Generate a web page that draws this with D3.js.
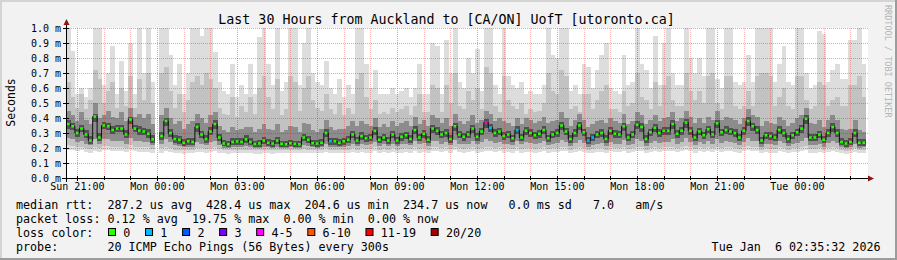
<!DOCTYPE html>
<html><head><meta charset="utf-8">
<script src="https://cdn.jsdelivr.net/npm/d3@7"></script>
<style>html,body{margin:0;padding:0;background:#f2f2f2;} svg{display:block;}</style>
</head><body>
<svg id="c" width="897" height="260"></svg>
<script>
// ---- data (values in microseconds, one step = 10 minutes) ----
const stepSeconds = 600;
const startTime = Date.UTC(2026, 0, 4, 20, 35, 32);
const endTime = Date.UTC(2026, 0, 6, 2, 35, 32);

const median = [
360,345,300,330,290,250,410,270,350,345,320,330,330,290,390,
330,316,310,295,258,null,280,380,300,260,255,235,245,240,340,
290,260,310,360,270,230,225,240,244,240,258,240,227,230,250,
235,230,250,228,225,232,228,225,270,255,232,230,235,300,245,
245,235,245,255,290,250,280,265,270,315,255,270,250,290,250,
275,285,260,320,270,295,255,330,315,290,300,260,345,290,275,
290,330,275,310,370,335,300,310,280,290,265,320,270,315,300,
285,295,320,265,290,300,350,310,260,300,350,305,250,270,290,
300,260,315,295,290,345,270,290,355,340,260,305,335,300,315,
315,360,295,315,370,315,270,310,285,325,290,365,305,320,310,
300,270,315,380,345,320,250,285,280,270,320,300,260,285,305,
330,395,270,270,290,255,300,340,300,240,230,240,300,235,235];

const pingMax = [
1000,850,560,600,540,600,1000,1000,620,700,880,560,780,580,900,
560,1000,700,1000,640,null,1000,1000,820,620,760,560,700,1000,1000,
950,1000,1000,840,640,580,560,760,540,620,560,760,560,940,1000,
760,620,1000,580,640,1000,1000,620,900,1000,700,640,620,780,600,
560,660,540,620,560,1000,1000,760,600,720,560,560,560,600,560,
580,600,540,600,760,560,560,900,880,560,920,700,1000,640,600,
800,700,860,580,1000,1000,620,560,1000,680,620,600,640,560,580,
560,560,620,1000,820,800,1000,1000,580,620,560,760,740,600,720,
820,900,600,580,560,820,620,640,1000,760,720,600,950,620,900,
1000,700,620,620,1000,800,700,800,680,1000,1000,660,600,1000,1000,
640,620,640,820,640,1000,1000,1000,1000,640,760,880,640,620,1000,
1000,700,600,620,980,960,640,720,760,660,660,920,920,1000,760];

const ping90 = [
640,540,470,560,460,520,720,660,500,580,640,470,600,480,680,
470,660,520,700,500,null,700,740,580,470,560,440,520,640,680,
620,700,660,600,470,430,420,540,410,480,440,540,430,600,680,
540,460,660,420,460,680,640,450,600,680,520,470,450,560,460,
430,500,420,470,430,660,700,540,460,520,430,440,430,470,440,
460,480,420,480,560,440,440,620,600,440,620,500,700,480,460,
580,520,600,460,740,700,480,440,680,520,480,460,500,430,460,
440,450,500,700,580,560,720,680,460,480,440,560,560,460,520,
580,620,460,460,440,580,480,500,700,540,520,460,640,480,620,
680,520,480,480,700,580,520,580,500,680,700,500,460,680,680,
480,460,480,580,480,680,700,700,680,480,540,600,480,460,680,
680,520,460,480,640,620,480,520,540,480,480,620,620,680,540];

const ping75 = [
450,420,380,440,390,360,500,400,420,450,410,400,440,380,470,
410,430,400,430,360,null,420,470,400,360,380,330,360,380,430,
400,370,420,440,350,320,310,340,320,330,340,340,310,330,360,
330,320,360,310,320,350,340,310,370,360,320,310,330,390,340,
320,330,330,350,380,350,380,360,350,400,340,360,340,380,350,
370,380,350,410,360,390,350,420,400,370,400,350,430,380,360,
380,420,370,390,450,430,380,400,380,370,350,400,360,400,390,
370,380,410,370,380,390,440,400,350,390,430,390,340,360,380,
390,370,400,380,370,430,360,380,440,420,360,390,420,380,400,
410,440,380,400,450,410,370,400,370,410,390,450,390,410,400,
390,360,400,460,420,410,350,380,370,360,410,390,350,370,400,
420,470,370,360,390,340,390,420,390,330,320,330,390,320,310];

const ping60 = [
385,370,330,355,320,280,430,300,375,370,345,355,355,320,410,
355,345,335,325,285,null,310,400,325,285,280,260,270,265,365,
315,285,340,385,295,255,250,265,270,265,285,265,250,255,275,
260,255,275,250,250,255,250,250,295,280,255,255,260,325,270,
270,260,270,280,315,275,305,290,295,340,280,295,275,315,275,
300,310,285,345,295,320,280,355,340,315,325,285,370,315,300,
315,355,300,335,395,360,325,335,305,315,290,345,295,340,325,
310,320,345,290,315,325,375,335,285,325,375,330,275,295,315,
325,285,340,320,315,370,295,315,380,365,285,330,360,325,340,
340,385,320,340,395,340,295,335,310,350,315,390,330,345,335,
325,295,340,405,370,345,275,310,305,295,345,325,285,310,330,
355,420,295,295,315,280,325,365,325,265,255,265,325,260,260];

const ping40 = [
330,320,275,305,265,230,375,245,325,320,295,305,305,265,360,
305,290,285,270,235,null,255,350,275,235,230,215,222,218,310,
265,235,285,330,245,212,208,218,222,218,235,218,208,210,228,
215,210,228,208,206,212,208,206,245,232,212,210,215,272,222,
222,215,222,232,265,228,255,240,245,288,232,245,228,265,228,
250,260,236,292,245,270,232,302,288,265,275,236,315,265,250,
265,302,250,285,335,305,275,285,255,265,240,292,245,288,275,
260,270,292,240,265,275,320,285,236,275,320,280,228,245,265,
275,236,288,270,265,315,245,265,325,310,236,280,305,275,288,
288,330,270,288,335,288,245,285,260,298,265,335,280,292,285,
275,245,288,345,315,292,228,260,255,245,292,275,236,260,280,
302,360,245,245,265,232,275,310,275,218,210,218,275,212,212];

const ping25 = [
270,260,240,250,230,220,260,230,260,260,250,250,250,230,270,
250,250,240,240,220,null,230,260,240,220,215,205,210,210,240,
230,220,240,250,220,200,200,205,210,205,215,205,200,200,210,
205,200,210,200,200,205,200,200,220,215,205,200,205,230,210,
210,205,210,215,230,215,230,220,225,240,215,225,215,230,215,
225,230,220,245,225,235,215,250,245,230,240,220,255,230,225,
230,250,225,240,260,250,235,240,225,230,220,245,225,240,235,
230,235,245,220,230,235,255,240,215,235,255,235,210,220,230,
235,215,240,230,230,255,220,230,260,250,215,235,250,235,240,
240,260,230,240,265,240,220,240,230,245,230,260,235,245,240,
235,220,240,270,250,245,210,230,225,220,245,235,215,230,235,
250,270,220,220,230,210,235,250,235,205,200,205,230,200,205];

const ping10 = [
220,215,205,210,200,195,210,200,215,215,210,210,210,200,220,
210,205,205,205,195,null,200,210,200,190,190,185,190,190,200,
200,195,200,210,195,185,185,185,190,185,190,185,185,185,190,
185,185,190,185,185,185,185,185,195,190,185,185,185,200,190,
190,185,190,190,200,190,200,195,195,205,190,195,190,200,190,
195,200,195,205,195,200,190,210,205,200,205,195,210,200,195,
200,205,195,200,210,205,200,205,195,200,195,205,195,200,200,
195,200,205,195,200,200,210,205,190,200,210,200,190,195,200,
200,190,205,200,200,210,195,200,210,205,190,200,205,200,205,
205,210,200,205,215,205,195,205,200,205,200,210,200,205,205,
200,195,205,215,205,205,190,200,195,195,205,200,190,200,200,
205,215,195,195,200,190,200,205,200,185,180,185,200,185,190];

const pingMin = [
190,185,180,185,175,170,180,175,185,185,180,180,180,175,190,
180,175,175,175,170,null,170,180,175,165,165,160,165,165,175,
175,170,175,180,170,165,160,165,165,165,165,165,160,160,165,
165,160,170,165,165,165,165,165,170,170,165,165,165,175,170,
170,165,170,170,175,170,175,170,170,180,170,175,170,175,170,
170,175,170,180,170,175,170,180,180,175,180,170,185,175,170,
175,180,170,175,180,180,175,180,170,175,170,180,170,175,175,
170,175,180,170,175,175,180,180,165,175,180,175,165,170,175,
175,165,180,175,175,180,170,175,180,180,165,175,180,175,180,
180,180,175,180,185,180,170,180,175,180,175,185,175,180,180,
175,170,180,185,180,180,165,175,170,170,180,175,165,175,175,
180,185,170,170,175,165,175,180,175,165,160,165,175,165,170];

const lossSteps = [59, 94, 95, 101, 117, 118];
const lossCounts = [1, 4, 1, 1, 1, 1];

const lossLabels = ["0", "1", "2", "3", "4-5", "6-10", "11-19", "20/20"];
const lossColors = ["#26ff00", "#00b8ff", "#0059ff", "#7e00ff", "#ff00ff", "#ff5500", "#ff0000", "#a10000"];
const lossUpper = [0, 1, 2, 3, 5, 10, 19, 20];

const yTicks = [0, 100, 200, 300, 400, 500, 600, 700, 800, 900, 1000];

const titleText = "Last 30 Hours from Auckland to [CA/ON] UofT [utoronto.ca]";
const legendLine1 = "median rtt:  287.2 us avg  428.4 us max  204.6 us min  234.7 us now   0.0 ms sd   7.0   am/s";
const legendLine2 = "packet loss: 0.12 % avg  19.75 % max  0.00 % min  0.00 % now";
const legendLine3 = "loss color:";
const legendLine4 = "probe:       20 ICMP Echo Pings (56 Bytes) every 300s";
const stampText = "Tue Jan  6 02:35:32 2026";
const watermark = "RRDTOOL / TOBI OETIKER";

// ---- drawing ----
const MONO = "'DejaVu Sans Mono', monospace";
const W = 897, H = 260;
const svg = d3.select("#c");
const keep = s => s.replace(/ /g, "\u00a0");

svg.append("rect").attr("width", W).attr("height", H).attr("fill", "#f2f2f2");
svg.append("rect").attr("x", 0).attr("y", 0).attr("width", W).attr("height", 2).attr("fill", "#d4d4d4");
svg.append("rect").attr("x", 0).attr("y", 0).attr("width", 2).attr("height", H).attr("fill", "#d4d4d4");
svg.append("rect").attr("x", 0).attr("y", H - 2).attr("width", W).attr("height", 2).attr("fill", "#9c9c9c");
svg.append("rect").attr("x", W - 2).attr("y", 0).attr("width", 2).attr("height", H).attr("fill", "#9c9c9c");

const xs = d3.scaleUtc().domain([new Date(startTime), new Date(endTime)]).range([66, 866]);
const ys = d3.scaleLinear().domain([0, 1000]).range([178, 28]);

// canvas
svg.append("rect").attr("x", xs.range()[0]).attr("y", ys(1000))
  .attr("width", xs.range()[1] - xs.range()[0] + 2).attr("height", ys(0) - ys(1000)).attr("fill", "#fff");

const steps = median.map((m, i) => ({
  i, m,
  t0: new Date(startTime + i * stepSeconds * 1000),
  t1: new Date(startTime + (i + 1) * stepSeconds * 1000)
}));
const loss = new Map(lossSteps.map((s, k) => [s, lossCounts[k]]));

const plot = svg.append("g").attr("shape-rendering", "crispEdges");
const bands = [
  [pingMin, pingMax, "#dddddd"],
  [ping10, ping90, "#c2c2c2"],
  [ping25, ping75, "#8c8c8c"],
  [ping40, ping60, "#515151"]
];
bands.forEach(([lo, hi, col]) => {
  plot.append("g").selectAll("rect")
    .data(steps.filter(d => lo[d.i] != null && hi[d.i] != null))
    .join("rect")
    .attr("x", d => xs(d.t0))
    .attr("width", d => xs(d.t1) - xs(d.t0) + 0.4)
    .attr("y", d => ys(Math.min(hi[d.i], 1000)))
    .attr("height", d => ys(lo[d.i]) - ys(Math.min(hi[d.i], 1000)))
    .attr("fill", col);
});

// grid (hourly, on top of data like rrdtool)
const hours = d3.utcHour.range(new Date(startTime), new Date(endTime));
const grid = svg.append("g").attr("shape-rendering", "crispEdges");
grid.selectAll("line.v").data(hours).join("line")
  .attr("x1", d => Math.round(xs(d)) + 0.5).attr("x2", d => Math.round(xs(d)) + 0.5)
  .attr("y1", ys(1000)).attr("y2", ys(0))
  .attr("stroke", "#ff0000")
  .attr("stroke-opacity", d => d.getUTCHours() % 3 === 0 ? 0.4 : 0.28)
  .attr("stroke-dasharray", "1,1");
grid.selectAll("line.h").data(yTicks.filter(v => v > 0)).join("line")
  .attr("x1", 63).attr("x2", 868)
  .attr("y1", d => Math.round(ys(d)) + 0.5).attr("y2", d => Math.round(ys(d)) + 0.5)
  .attr("stroke", "#ff0000").attr("stroke-opacity", 0.38).attr("stroke-dasharray", "1,1");

// median: black step line and loss-coloured segments
const stepPts = [];
steps.forEach(d => { stepPts.push({ t: d.t0, v: d.m }); stepPts.push({ t: d.t1, v: d.m }); });
svg.append("path")
  .attr("d", d3.line().defined(d => d.v != null).x(d => xs(d.t)).y(d => ys(d.v))(stepPts))
  .attr("fill", "none").attr("stroke", "#111").attr("stroke-width", 1);

function lossColor(n) {
  const k = lossUpper.findIndex(u => n <= u);
  return lossColors[k];
}
svg.append("g").selectAll("line").data(steps.filter(d => d.m != null)).join("line")
  .attr("x1", d => xs(d.t0) + 0.8).attr("x2", d => xs(d.t1) - 0.8)
  .attr("y1", d => ys(d.m)).attr("y2", d => ys(d.m))
  .attr("stroke", d => lossColor(loss.get(d.i) || 0))
  .attr("stroke-width", 2.5);

// axes lines + ticks
const axes = svg.append("g").attr("shape-rendering", "crispEdges");
axes.append("line").attr("x1", 62).attr("x2", 868).attr("y1", 178.5).attr("y2", 178.5).attr("stroke", "#000");
axes.append("line").attr("x1", 66.5).attr("x2", 66.5).attr("y1", 182).attr("y2", 24).attr("stroke", "#000");
axes.selectAll("line.tk").data(hours).join("line")
  .attr("x1", d => Math.round(xs(d)) + 0.5).attr("x2", d => Math.round(xs(d)) + 0.5)
  .attr("y1", d => d.getUTCHours() % 3 === 0 ? 181 : 180).attr("y2", 176)
  .attr("stroke", "#000");
axes.selectAll("line.ytk").data(yTicks).join("line")
  .attr("x1", 63).attr("x2", 69)
  .attr("y1", d => Math.round(ys(d)) + 0.5).attr("y2", d => Math.round(ys(d)) + 0.5)
  .attr("stroke", "#000");
// arrows
svg.append("path").attr("d", "M63.5,25 L66.5,19 L69.5,25 Z").attr("fill", "#8f1515");
svg.append("path").attr("d", "M868,175.5 L874,178.5 L868,181.5 Z").attr("fill", "#8f1515");

// axis labels via d3 axes
const majors = hours.filter(d => d.getUTCHours() % 3 === 0);
const gx = svg.append("g").attr("transform", "translate(0,178)")
  .call(d3.axisBottom(xs).tickValues(majors).tickFormat(d3.utcFormat("%a %H:%M")).tickSize(0).tickPadding(0));
gx.select(".domain").remove();
gx.attr("font-family", MONO).attr("font-size", 10);
gx.selectAll("text").attr("y", 12.4).attr("dy", null).attr("fill", "#000");

const gy = svg.append("g").attr("transform", "translate(66,0)")
  .call(d3.axisLeft(ys).tickValues(yTicks).tickFormat(v => (v / 1000).toFixed(1) + " m").tickSize(0).tickPadding(5));
gy.select(".domain").remove();
gy.attr("font-family", MONO).attr("font-size", 10);
gy.selectAll("text").attr("fill", "#000").attr("dy", "0.35em").text(function () { return keep(this.textContent); });

// title, y label, watermark
svg.append("text").attr("x", 446.5).attr("y", 24).attr("text-anchor", "middle")
  .attr("font-family", MONO).attr("font-size", 13.3).attr("fill", "#000").text(titleText);
svg.append("text").attr("transform", "translate(15.2,102.5) rotate(-90)").attr("text-anchor", "middle")
  .attr("font-family", MONO).attr("font-size", 11.5).attr("fill", "#000").text("Seconds");
svg.append("text").attr("transform", "translate(884.8,5) rotate(90)").attr("text-anchor", "start")
  .attr("font-family", MONO).attr("font-size", 8.5).attr("fill", "#b4b4b4").text(watermark);

// legend
const LF = 11.7, CW = LF * 0.602;
const leg = svg.append("g").attr("font-family", MONO).attr("font-size", LF).attr("fill", "#000");
leg.append("text").attr("x", 16).attr("y", 208.5).text(keep(legendLine1));
leg.append("text").attr("x", 16).attr("y", 222.5).text(keep(legendLine2));
leg.append("text").attr("x", 16).attr("y", 236.5).text(keep(legendLine3));
leg.append("text").attr("x", 16).attr("y", 250.5).text(keep(legendLine4));
leg.append("text").attr("x", 880.5).attr("y", 250.5).attr("text-anchor", "end").text(keep(stampText));
let bx = 108;
lossLabels.forEach((lab, k) => {
  leg.append("rect").attr("x", bx + 0.5).attr("y", 228.5).attr("width", 7).attr("height", 7)
    .attr("fill", lossColors[k]).attr("stroke", "#000").attr("stroke-width", 1);
  leg.append("text").attr("x", bx + 15.3).attr("y", 236.5).text(lab);
  bx += 30 + CW * lab.length;
});
</script>
</body></html>
